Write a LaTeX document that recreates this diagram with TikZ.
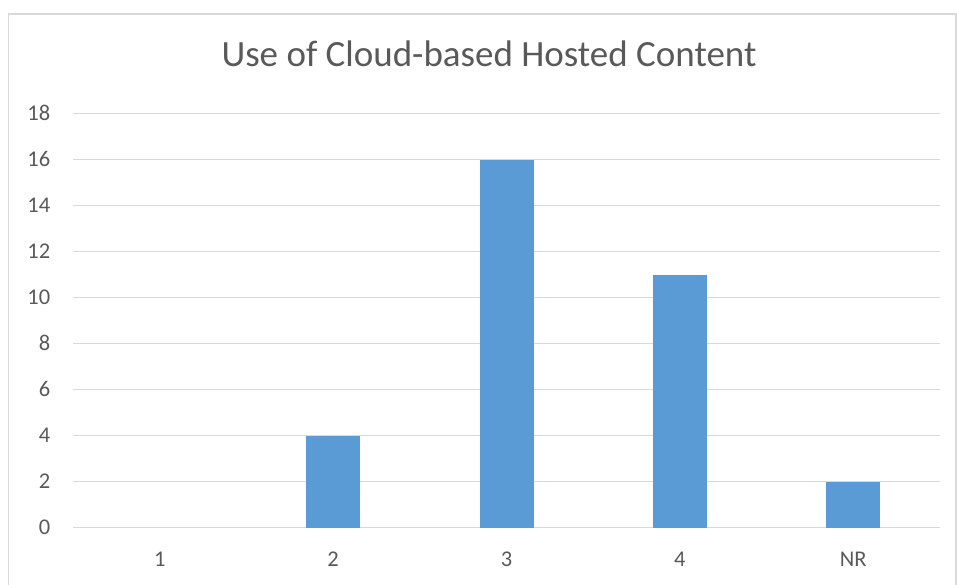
\documentclass[tikz,border=0pt]{standalone}
\usepackage{fontspec}
\setmainfont{Carlito}
\definecolor{barblue}{HTML}{5B9BD5}
\definecolor{gridgray}{HTML}{D9D9D9}
\definecolor{txtgray}{HTML}{595959}
\begin{document}
\begin{tikzpicture}[x=1pt,y=-1pt,
  grid/.style={draw=gridgray,line width=1.3pt},
  frame/.style={draw=gridgray,line width=1.5pt},
  bar/.style={fill=barblue,draw=none},
  ylab/.style={anchor=base east,text=txtgray,font=\fontsize{22.5}{26}\selectfont,inner sep=0pt},
  xlab/.style={anchor=base,text=txtgray,font=\fontsize{22.5}{26}\selectfont,inner sep=0pt},
  ttl/.style={anchor=base,text=txtgray,font=\fontsize{37}{42}\selectfont,inner sep=0pt}]
\useasboundingbox (0,0) rectangle (957,585);
\draw[frame] (8.5,600) -- (8.5,14) -- (956,14) -- (956,600);
\node[ttl] (title) at (489,67) {Use of Cloud-based Hosted Content};
% gridlines and y labels
\foreach \v in {0,2,...,18}{
  \pgfmathsetmacro{\yy}{527.7-23*\v}
  \draw[grid] (73,\yy) -- (940,\yy);
  \node[ylab] (y\v) at (50.5,\yy+6.8) {\v};
}
% bars
\fill[bar] (306,527.7) rectangle (360,435.7);
\fill[bar] (479.5,527.7) rectangle (533.5,159.7);
\fill[bar] (653,527.7) rectangle (707,274.7);
\fill[bar] (826,527.7) rectangle (880,481.7);
% x labels
\node[xlab] (c1) at (159.7,566) {1};
\node[xlab] (c2) at (333.1,566) {2};
\node[xlab] (c3) at (506.5,566) {3};
\node[xlab] (c4) at (679.9,566) {4};
\node[xlab] (c5) at (853.3,566) {NR};
\end{tikzpicture}
\end{document}
